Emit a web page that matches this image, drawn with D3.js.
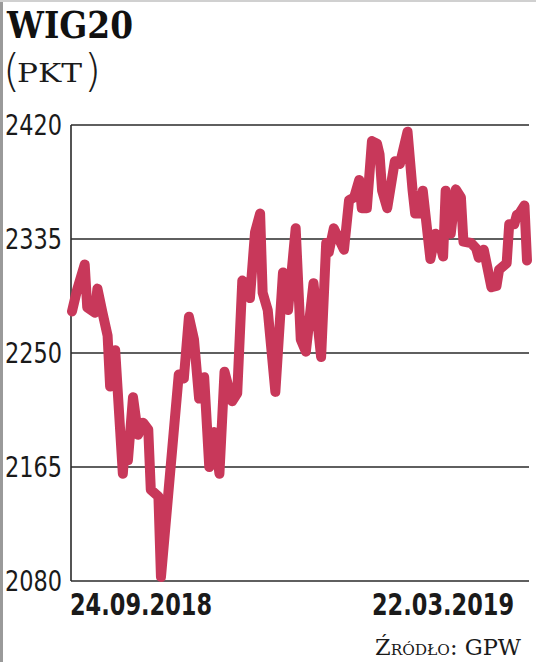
<!DOCTYPE html>
<html>
<head>
<meta charset="utf-8">
<script src="https://cdn.jsdelivr.net/npm/d3@7"></script>
<style>
  html, body { margin: 0; padding: 0; background: #fff; }
  svg { display: block; }
</style>
</head>
<body>
<svg id="chart" width="536" height="662"></svg>
<script>
// ---- data ----
const title = "WIG20";
const unit = "PKT";
const source = "Źródło: GPW";
const startDate = "2018-09-24";
const endDate = "2019-03-22";
const xTickLabels = ["24.09.2018", "22.03.2019"];
const yTicks = [2080, 2165, 2250, 2335, 2420];
// calendar-day offsets from 24.09.2018
const dayOffsets = [0, 2, 5, 6, 9, 10, 12, 14, 15, 17, 20, 21, 22, 24, 26, 28, 30, 31, 34, 35,
  42, 44, 46, 48, 50, 52, 54, 56, 58, 60, 63, 65, 67, 69, 70, 72, 74, 75, 77, 80,
  83, 85, 88, 90, 92, 95, 98, 100, 101, 103, 107, 109, 111, 113, 114, 116, 118, 120, 121, 122,
  124, 127, 129, 131, 132, 134, 135, 137, 138, 141, 143, 144, 146, 147, 149, 151, 153, 154, 157, 159,
  160, 162, 165, 167, 168, 171, 172, 174, 175, 176, 178, 179];
const indexValues = [2281, 2297, 2316, 2284, 2280, 2298, 2280, 2263, 2225, 2252, 2160, 2187, 2170, 2217, 2189, 2198, 2193, 2148, 2143, 2083,
  2234, 2231, 2277, 2260, 2216, 2232, 2165, 2191, 2160, 2236, 2214, 2220, 2304, 2301, 2291, 2340, 2354, 2295, 2282, 2221,
  2310, 2282, 2343, 2260, 2251, 2302, 2247, 2332, 2325, 2343, 2327, 2364, 2366, 2379, 2358, 2358, 2408, 2406, 2398, 2371,
  2358, 2393, 2391, 2407, 2415, 2371, 2354, 2354, 2371, 2320, 2339, 2337, 2322, 2371, 2339, 2372, 2366, 2333, 2332, 2328,
  2321, 2327, 2299, 2300, 2312, 2317, 2346, 2346, 2353, 2354, 2360, 2319];

// ---- drawing ----
const svg = d3.select("#chart");
const W = 536, H = 662;
const plot = { left: 71, right: 529, top: 125, bottom: 581 };
const sansCond = "'DejaVu Sans Condensed', 'DejaVu Sans', sans-serif";

const t0 = d3.utcParse("%Y-%m-%d")(startDate);
const t1 = d3.utcParse("%Y-%m-%d")(endDate);
const data = dayOffsets.map((d, i) => ({ date: d3.utcDay.offset(t0, d), value: indexValues[i] }));

const x = d3.scaleUtc().domain([t0, t1]).range([72, 527]);
const y = d3.scaleLinear().domain([2080, 2420]).range([plot.bottom, plot.top]);

// background + scan-like border
svg.append("rect").attr("width", W).attr("height", H).attr("fill", "#fff");
svg.append("rect").attr("x", 0).attr("y", 0).attr("width", 3).attr("height", H).attr("fill", "#9a9a9a");
svg.append("rect").attr("x", 0).attr("y", 0).attr("width", W).attr("height", 2).attr("fill", "#d0d0d0");

// title
svg.append("text")
  .attr("x", 7).attr("y", 38)
  .style("font-family", "'DejaVu Serif', serif")
  .style("font-weight", "bold")
  .style("font-size", "38px")
  .attr("textLength", 126).attr("lengthAdjust", "spacingAndGlyphs")
  .attr("fill", "#111")
  .text(title);

// unit "(PKT)"
const parenStyle = s => s
  .style("font-family", "'DejaVu Sans', sans-serif")
  .style("font-weight", "200")
  .style("font-size", "44px")
  .attr("fill", "#1a1a1a");
parenStyle(svg.append("text").attr("x", 3).attr("y", 86).text("("));
parenStyle(svg.append("text").attr("x", 84).attr("y", 86).text(")"));
svg.append("text")
  .attr("x", 17).attr("y", 82)
  .style("font-family", "'DejaVu Serif', serif")
  .style("font-size", "26px")
  .attr("textLength", 65).attr("lengthAdjust", "spacingAndGlyphs")
  .attr("fill", "#1a1a1a")
  .text(unit);

// gridlines
const grid = svg.append("g");
grid.selectAll("line").data(yTicks).join("line")
  .attr("x1", plot.left).attr("x2", plot.right)
  .attr("y1", d => y(d)).attr("y2", d => y(d))
  .attr("stroke", "#2a2a2a").attr("stroke-width", 1.6);
grid.append("line")
  .attr("x1", plot.left).attr("x2", plot.left)
  .attr("y1", plot.top).attr("y2", plot.bottom)
  .attr("stroke", "#2a2a2a").attr("stroke-width", 1.6);

// y labels
svg.append("g").selectAll("text").data(yTicks).join("text")
  .attr("x", 5).attr("y", d => y(d)).attr("dy", "0.36em")
  .attr("text-anchor", "start")
  .style("font-family", sansCond)
  .style("font-size", "28px")
  .attr("textLength", 57).attr("lengthAdjust", "spacingAndGlyphs")
  .attr("fill", "#1a1a1a")
  .text(d => d);

// line
const line = d3.line().x(d => x(d.date)).y(d => y(d.value));
svg.append("path")
  .datum(data)
  .attr("d", line)
  .attr("fill", "none")
  .attr("stroke", "#c8385a")
  .attr("stroke-width", 10)
  .attr("stroke-linejoin", "round")
  .attr("stroke-linecap", "round");

// x labels
const xl = [
  { text: xTickLabels[0], x0: x(t0) - 2 },
  { text: xTickLabels[1], x0: x(t1) - 155 }
];
svg.append("g").selectAll("text").data(xl).join("text")
  .attr("x", d => d.x0).attr("y", 615)
  .style("font-family", sansCond)
  .style("font-weight", "bold")
  .style("font-size", "31px")
  .attr("textLength", 142).attr("lengthAdjust", "spacingAndGlyphs")
  .attr("fill", "#1a1a1a")
  .text(d => d.text);

// source
svg.append("text")
  .attr("x", 375).attr("y", 655)
  .style("font-family", "'DejaVu Serif', serif")
  .style("font-variant", "small-caps")
  .style("font-size", "22px")
  .attr("textLength", 146).attr("lengthAdjust", "spacingAndGlyphs")
  .attr("fill", "#1a1a1a")
  .text(source);
</script>
</body>
</html>
